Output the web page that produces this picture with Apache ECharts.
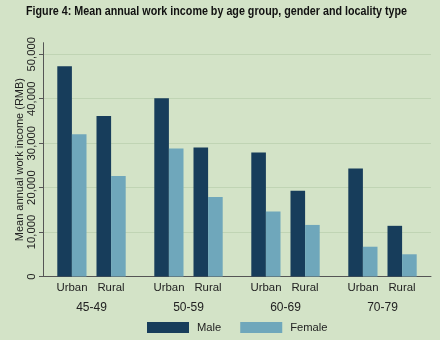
<!DOCTYPE html>
<html>
<head>
<meta charset="utf-8">
<script src="https://cdn.jsdelivr.net/npm/echarts@6/dist/echarts.min.js"></script>
<style>
  html, body { margin: 0; padding: 0; background: #d3e3c7; }
  #chart { width: 440px; height: 340px; }
</style>
</head>
<body>
<div id="chart"></div>
<script>
// Age groups and locality labels
const ageGroups = ['45-49', '50-59', '60-69', '70-79'];
const localities = ['Urban', 'Rural'];

// Mean annual work income (RMB)
const maleUrban   = [47300, 40100, 27900, 24300];
const femaleUrban = [32000, 28800, 14600, 6700];
const maleRural   = [36100, 29000, 19300, 11400];
const femaleRural = [22600, 17900, 11600, 5000];

// Y axis ticks
const yTicks = [0, 10000, 20000, 30000, 40000, 50000];

const TITLE = 'Figure 4: Mean annual work income by age group, gender and locality type';

const MALE_COLOR = '#173d5b';
const FEMALE_COLOR = '#6fa7bb';
const BAR_W = 14.6;

const chart = echarts.init(document.getElementById('chart'), null, { renderer: 'canvas' });

const barSeries = (name, data, color) => ({
  name: name,
  type: 'bar',
  data: data,
  barWidth: BAR_W,
  barGap: '0%',
  itemStyle: { color: color },
  emphasis: { disabled: true }
});

chart.setOption({
  backgroundColor: '#d3e3c7',
  animation: false,
  textStyle: { fontFamily: 'Liberation Sans, Arial, sans-serif' },
  // condensed bold heading: regular bold face squeezed horizontally
  graphic: [{
    type: 'text',
    left: 26,
    top: 4,
    scaleX: 0.795,
    silent: true,
    style: {
      text: TITLE,
      fontFamily: 'Liberation Sans, Arial, sans-serif',
      fontWeight: 'bold',
      fontSize: 13.5,
      fill: '#111'
    }
  }],
  grid: { left: 43, right: 9, top: 42.7, bottom: 63.5, containLabel: false },
  legend: {
    data: ['Male', 'Female'],
    left: 147,
    top: 322,
    padding: 0,
    icon: 'rect',
    itemWidth: 42,
    itemHeight: 11,
    itemGap: 19,
    selectedMode: false,
    textStyle: { fontSize: 11.2, color: '#222', padding: [0, 0, 0, 3] }
  },
  xAxis: {
    type: 'category',
    data: ageGroups,
    axisLine: { lineStyle: { color: '#555', width: 1 } },
    axisTick: { show: false },
    axisLabel: {
      interval: 0,
      margin: 4,
      formatter: (v) => '{u|' + localities[0] + '}{r|' + localities[1] + '}\n{g|' + v + '}',
      rich: {
        u: { width: 39, align: 'center', fontSize: 11.4, color: '#222', lineHeight: 14 },
        r: { width: 39, align: 'center', fontSize: 11.4, color: '#222', lineHeight: 14 },
        g: { fontSize: 12, color: '#222', lineHeight: 26 }
      }
    }
  },
  yAxis: {
    type: 'value',
    min: 0,
    max: 52600,
    interval: 10000,
    name: 'Mean annual work income (RMB)',
    nameLocation: 'middle',
    nameGap: 18,
    nameMoveOverlap: false,
    nameTextStyle: { fontSize: 11, color: '#222' },
    axisLine: { show: true, lineStyle: { color: '#555', width: 1 } },
    axisTick: { show: true, length: 4, customValues: yTicks, lineStyle: { color: '#555' } },
    axisLabel: {
      customValues: yTicks,
      rotate: 90,
      margin: 6,
      fontSize: 11.3,
      color: '#222',
      formatter: (v) => v.toLocaleString('en-US')
    },
    splitLine: { show: true, lineStyle: { color: '#c0d4b4', width: 1 } }
  },
  series: [
    barSeries('Male', maleUrban, MALE_COLOR),
    barSeries('Female', femaleUrban, FEMALE_COLOR),
    {
      // narrow invisible column that separates the urban and rural pairs
      name: 'gap',
      type: 'bar',
      data: ageGroups.map(() => 0),
      barWidth: 10,
      barGap: '0%',
      itemStyle: { color: 'rgba(0,0,0,0)' },
      silent: true
    },
    barSeries('Male', maleRural, MALE_COLOR),
    barSeries('Female', femaleRural, FEMALE_COLOR)
  ]
});
</script>
</body>
</html>
